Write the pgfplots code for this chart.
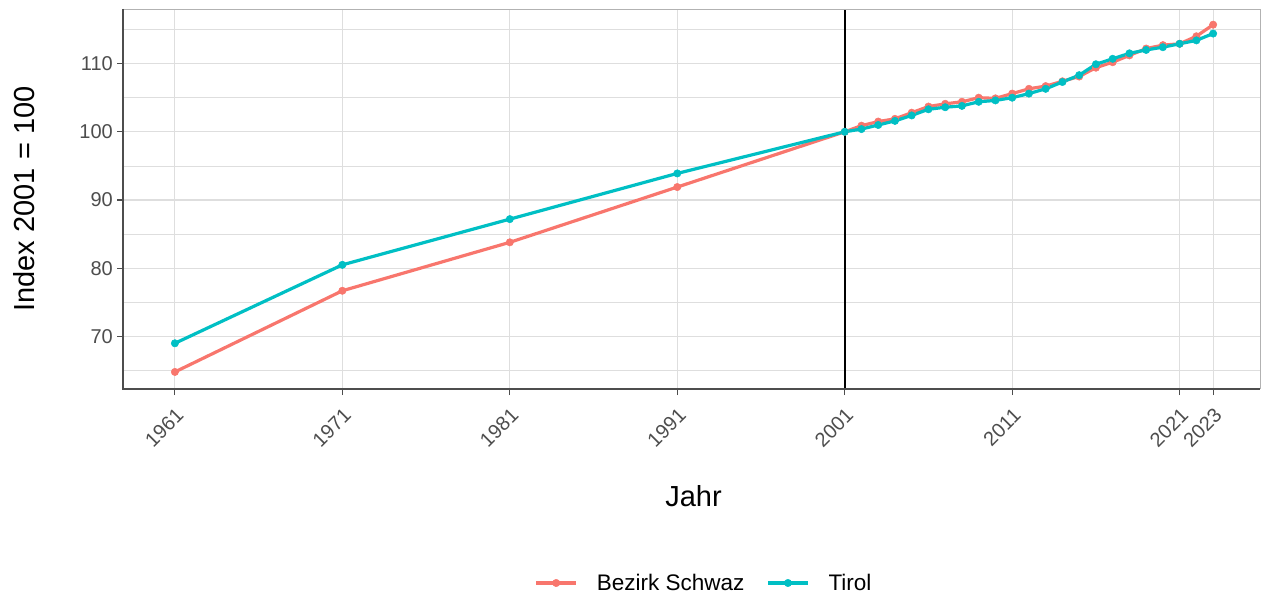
\documentclass[border=0pt]{standalone}
\usepackage{fontspec}
\setmainfont{Liberation Sans}
\usepackage{pgfplots}
\pgfplotsset{compat=1.18}
\definecolor{schwaz}{HTML}{F8766D}
\definecolor{tirol}{HTML}{00BFC4}
\definecolor{gridc}{HTML}{DEDEDE}
\definecolor{tickc}{HTML}{4D4D4D}

\begin{document}
\begin{tikzpicture}
\begin{axis}[
  name=ax,
  scale only axis,
  width=1137pt, height=380pt,
  xmin=1957.9, xmax=2025.8,
  ymin=62.3, ymax=118,
  clip=false,
  xtick={1961,1971,1981,1991,2001,2011,2021,2023},
  xticklabels={1961,1971,1981,1991,2001,2011,2021,2023},
  ytick={70,80,90,100,110},
  minor ytick={65,75,85,95,105,115},
  grid=both,
  major grid style={gridc, line width=1.1pt},
  minor grid style={gridc, line width=0.8pt},
  axis line style={draw=none},
  tick pos=left,
  tick align=outside,
  major tick length=6pt,
  minor tick length=0pt,
  tick style={tickc, line width=1.1pt},
  /pgf/number format/assume math mode=true,
  ticklabel style={font=\fontsize{20}{24}\selectfont, text=tickc},
  xticklabel style={yshift=-9pt, xshift=0pt, rotate=45, anchor=north east, inner sep=2pt},
  yticklabel style={inner sep=4pt},
  legend style={draw=none, fill=none, at={(0.511,-0.5105)}, anchor=center,
    font=\fontsize{22.5}{27}\selectfont,
    /tikz/every odd column/.append style={column sep=17pt},
    /tikz/every even column/.append style={column sep=20pt}},
  legend columns=2,
  legend cell align=left,
  legend image code/.code={\draw[mark repeat=2,mark phase=2] plot coordinates {(0pt,0pt)(20pt,0pt)(40pt,0pt)};},
  every axis plot/.append style={line width=3.2pt, mark=*, mark size=3.7pt, mark options={line width=0.5pt}},
]
\draw[black, line width=1.8pt] (axis cs:2001,62.3) -- (axis cs:2001,118);
\addplot[color=schwaz] coordinates {
  (1961,64.8) (1971,76.7) (1981,83.8) (1991,91.9) (2001,100.0)
  (2002,100.9) (2003,101.5) (2004,101.9) (2005,102.8) (2006,103.7)
  (2007,104.1) (2008,104.4) (2009,105.0) (2010,104.9) (2011,105.6)
  (2012,106.3) (2013,106.7) (2014,107.4) (2015,108.1) (2016,109.4)
  (2017,110.2) (2018,111.2) (2019,112.2) (2020,112.7) (2021,112.9)
  (2022,114.0) (2023,115.7)
};
\addlegendentry{Bezirk Schwaz}
\addplot[color=tirol] coordinates {
  (1961,69.0) (1971,80.5) (1981,87.2) (1991,93.9) (2001,100.0)
  (2002,100.4) (2003,101.0) (2004,101.6) (2005,102.4) (2006,103.3)
  (2007,103.6) (2008,103.8) (2009,104.4) (2010,104.6) (2011,105.0)
  (2012,105.6) (2013,106.3) (2014,107.3) (2015,108.3) (2016,109.9)
  (2017,110.7) (2018,111.5) (2019,112.0) (2020,112.4) (2021,112.9)
  (2022,113.4) (2023,114.4)
};
\addlegendentry{Tirol}
\draw[gray!60, line width=0.9pt] (rel axis cs:0,1) -- (rel axis cs:1,1) -- (rel axis cs:1,0);
\draw[tickc, line width=1.6pt] (rel axis cs:0,1) -- (rel axis cs:0,0) -- (rel axis cs:1,0);
\end{axis}
\node[rotate=90, anchor=south, inner sep=0pt, font=\fontsize{29}{34}\selectfont] at ([xshift=-88pt]ax.west) {Index 2001 = 100};
\node[anchor=base, inner sep=0pt, font=\fontsize{29}{34}\selectfont] at ([yshift=-117pt,xshift=2pt]ax.south) {Jahr};
\pgfresetboundingbox
\path[use as bounding box] ([shift={(-123pt,-204pt)}]ax.south west) rectangle ([shift={(1pt,9pt)}]ax.north east);
\end{tikzpicture}
\end{document}
